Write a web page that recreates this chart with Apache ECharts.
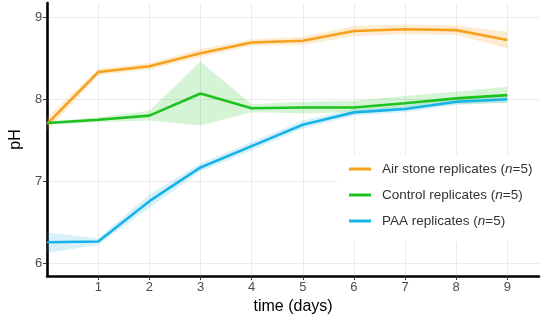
<!DOCTYPE html>
<html>
<head>
<meta charset="utf-8">
<script src="https://cdn.jsdelivr.net/npm/echarts@6/dist/echarts.min.js"></script>
<style>html,body{margin:0;padding:0;background:#fff;}#c{width:550px;height:321px;}</style>
</head>
<body>
<div id="c"></div>
<script>
var days = [0,1,2,3,4,5,6,7,8,9];
var xTicks = [1,2,3,4,5,6,7,8,9];
var yTicks = [6,7,8,9];

var airMean  = [7.70, 8.33, 8.40, 8.56, 8.69, 8.71, 8.83, 8.85, 8.84, 8.72];
var airLow   = [7.62, 8.29, 8.36, 8.51, 8.65, 8.66, 8.77, 8.79, 8.78, 8.62];
var airHigh  = [7.78, 8.37, 8.44, 8.61, 8.73, 8.76, 8.89, 8.91, 8.90, 8.82];

var ctlMean  = [7.71, 7.75, 7.80, 8.07, 7.89, 7.90, 7.90, 7.95, 8.01, 8.05];
var ctlLow   = [7.69, 7.72, 7.74, 7.68, 7.84, 7.83, 7.84, 7.88, 7.94, 7.96];
var ctlHigh  = [7.73, 7.78, 7.86, 8.46, 7.94, 7.97, 7.98, 8.04, 8.09, 8.15];

var paaMean  = [6.26, 6.27, 6.76, 7.17, 7.43, 7.69, 7.84, 7.88, 7.97, 8.00];
var paaLow   = [6.13, 6.23, 6.68, 7.12, 7.38, 7.64, 7.80, 7.84, 7.93, 7.96];
var paaHigh  = [6.38, 6.31, 6.84, 7.22, 7.48, 7.74, 7.88, 7.92, 8.01, 8.04];

var names = ['Air stone replicates', 'Control replicates', 'PAA replicates'];
var colors = ['#F5A11E', '#1EC21E', '#19B2E6'];
var bandColors = ['rgba(245,161,30,0.2)', 'rgba(30,194,30,0.19)', 'rgba(25,178,230,0.18)'];

var groups = [[airMean, airLow, airHigh],[ctlMean, ctlLow, ctlHigh],[paaMean, paaLow, paaHigh]];
var series = [];
groups.forEach(function(g, k){
  var lo = g[1], hi = g[2];
  series.push({
    type:'custom', name:'band'+k, silent:true, z:1,
    data: days.map(function(d,i){ return [d, lo[i], hi[i]]; }),
    encode:{x:0, y:[1,2]},
    renderItem:function(params, api){
      if (params.dataIndex !== 0) return null;
      var pts = [];
      for (var i=0;i<days.length;i++) pts.push(api.coord([days[i], hi[i]]));
      for (var j=days.length-1;j>=0;j--) pts.push(api.coord([days[j], lo[j]]));
      return {type:'polygon', shape:{points:pts}, style:{fill:bandColors[k], stroke:null}};
    }
  });
});
groups.forEach(function(g, k){
  series.push({
    type:'line', name:names[k], data:days.map(function(d,i){ return [d, g[0][i]]; }), symbol:'none',
    lineStyle:{color:colors[k], width:2.6}, itemStyle:{color:colors[k]}, z:3
  });
});

var chart = echarts.init(document.getElementById('c'), null, {renderer:'canvas'});
chart.setOption({
  animation:false,
  backgroundColor:'#ffffff',
  textStyle:{fontFamily:'Liberation Sans'},
  grid:{left:46, right:11, top:3, bottom:45, containLabel:false},
  xAxis:{
    type:'value', min:0, max:9.62,
    name:'time (days)', nameLocation:'middle', nameGap:20,
    nameTextStyle:{color:'#000', fontSize:16, fontFamily:'Liberation Sans'},
    axisLine:{show:true, onZero:false, lineStyle:{color:'#000', width:2.6}},
    axisTick:{show:true, customValues:xTicks, length:4, lineStyle:{color:'#333'}},
    axisLabel:{customValues:xTicks, color:'#4d4d4d', fontSize:13, margin:5},
    splitLine:{show:true, lineStyle:{color:'#ebebeb', width:1}}
  },
  yAxis:{
    type:'value', min:5.85, max:9.17,
    name:'pH', nameLocation:'middle', nameGap:22,
    nameTextStyle:{color:'#000', fontSize:16, fontFamily:'Liberation Sans'},
    axisLine:{show:true, onZero:false, lineStyle:{color:'#000', width:2.6}},
    axisTick:{show:true, customValues:yTicks, length:4, lineStyle:{color:'#333'}},
    axisLabel:{customValues:yTicks, color:'#4d4d4d', fontSize:13, margin:5},
    splitLine:{show:true, lineStyle:{color:'#ebebeb', width:1}}
  },
  legend:{
    orient:'vertical', left:338, top:155,
    data:names, backgroundColor:'#ffffff',
    padding:[7,8,14,11], itemGap:12, itemWidth:22, itemHeight:3, icon:'rect',
    textStyle:{color:'#333', fontSize:13.5, fontFamily:'Liberation Sans', padding:[0,0,0,6],
      rich:{i:{fontStyle:'italic', fontSize:13.5, color:'#333', fontFamily:'Liberation Sans'},
            a:{fontSize:13.5, color:'#333', fontFamily:'Liberation Sans'}}},
    formatter:function(n){ return '{a|'+n+' (}{i|n}{a|=5)}'; }
  },
  series:series
});
</script>
</body>
</html>
